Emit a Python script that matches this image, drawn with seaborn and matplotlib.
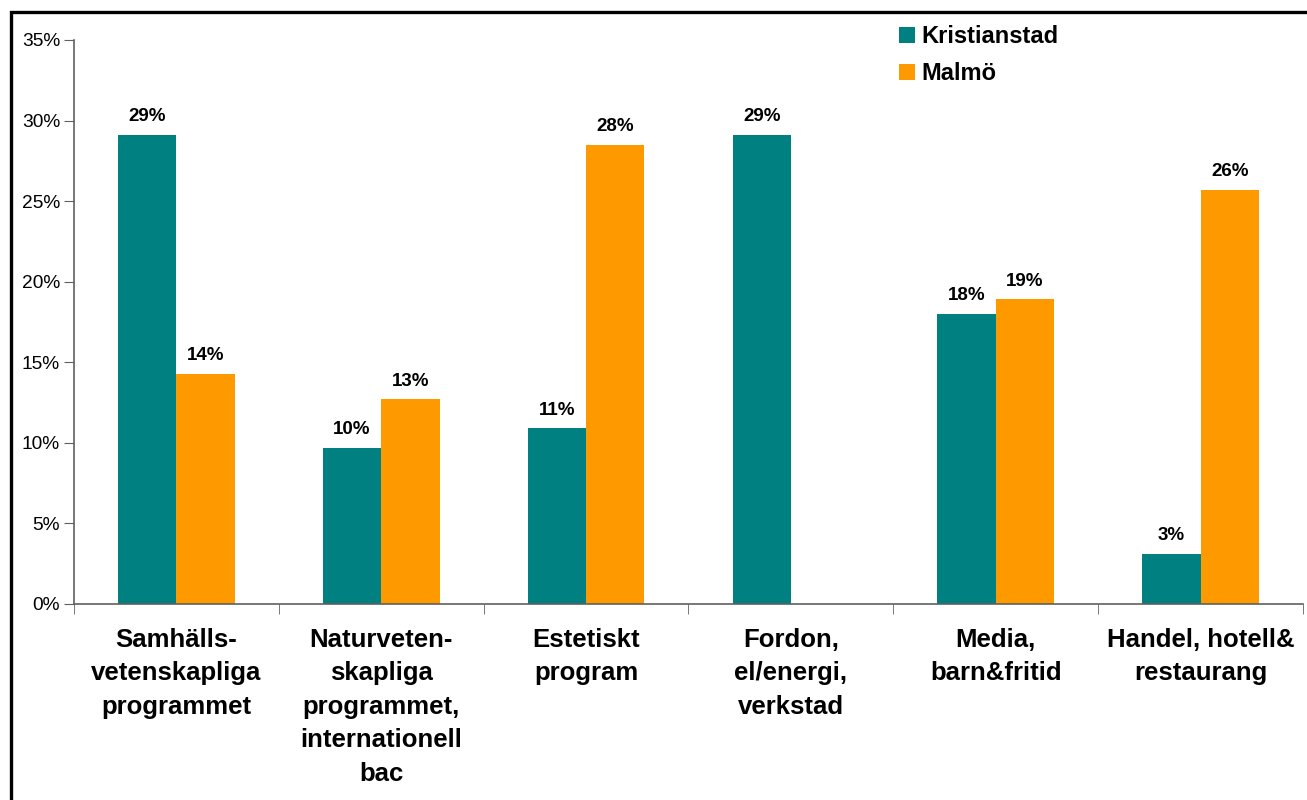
import matplotlib
matplotlib.use("Agg")
import matplotlib.pyplot as plt
import matplotlib.patches as patches
from matplotlib.ticker import FixedLocator, PercentFormatter
import seaborn as sns
import pandas as pd

kategorier = [
    "Samhälls-\nvetenskapliga\nprogrammet",
    "Naturveten-\nskapliga\nprogrammet,\ninternationell\nbac",
    "Estetiskt\nprogram",
    "Fordon,\nel/energi,\nverkstad",
    "Media,\nbarn&fritid",
    "Handel, hotell&\nrestaurang",
]
kristianstad = [29.1, 9.7, 10.9, 29.1, 18.0, 3.1]
malmo = [14.3, 12.7, 28.5, 0.0, 18.9, 25.7]
orter = ["Kristianstad", "Malmö"]
farger = ["#008080", "#FF9900"]

df = pd.DataFrame({
    "kategori": kategorier * 2,
    "ort": [orter[0]] * 6 + [orter[1]] * 6,
    "andel": kristianstad + malmo,
})

sns.set_style("white")
plt.rcParams["font.family"] = ["Liberation Sans", "DejaVu Sans"]
plt.rcParams["text.color"] = "black"
plt.rcParams["xtick.color"] = "black"
plt.rcParams["ytick.color"] = "black"

fig = plt.figure(figsize=(13.07, 8), dpi=100)
ax = fig.add_axes([74 / 1307, 1 - 604 / 800, (1303 - 74) / 1307, (604 - 40) / 800])

sns.barplot(data=df, x="kategori", y="andel", hue="ort", palette=farger,
            width=0.57, saturation=1, linewidth=0, ax=ax, legend=True)

for cont in ax.containers:
    labels = [f"{v:.0f}%" if v > 0 else "" for v in cont.datavalues]
    ax.bar_label(cont, labels=labels, padding=7, fontsize=13.5, fontweight="bold")

ax.set_ylim(0, 35)
ax.set_xlim(-0.5, 5.5)
ax.set_yticks(range(0, 36, 5))
ax.yaxis.set_major_formatter(PercentFormatter(decimals=0))
ax.set_xlabel("")
ax.set_ylabel("")

# kategorinamn i mitten, streck mellan grupperna
ax.set_xticks(range(6))
ax.set_xticklabels(kategorier, fontsize=18.5, fontweight="bold", linespacing=1.5)
ax.tick_params(axis="x", which="major", length=0, pad=17)
ax.xaxis.set_minor_locator(FixedLocator([i - 0.5 for i in range(7)]))
ax.tick_params(axis="x", which="minor", length=7, color="#606060", direction="out", bottom=True)
ax.tick_params(axis="y", labelsize=13.8, length=7, color="#606060", direction="out", left=True, pad=3)

sns.despine(ax=ax)
for s in ["left", "bottom"]:
    ax.spines[s].set_color("#606060")
    ax.spines[s].set_linewidth(1.2)

ax.legend(loc="upper left", bbox_to_anchor=(878 / 1307, 1 - 4 / 800),
          bbox_transform=fig.transFigure, frameon=False,
          prop={"weight": "bold", "size": 17}, handlelength=0.65, handleheight=0.65,
          handletextpad=0.3, labelspacing=0.6)

# ram runt diagrammet
fig.add_artist(patches.Rectangle((10.5 / 1307, -0.1), 1.2, 1.1 - 12.5 / 800,
                                 transform=fig.transFigure, fill=False,
                                 edgecolor="black", linewidth=2.4, clip_on=False))

fig.savefig("out.png", dpi=100)
